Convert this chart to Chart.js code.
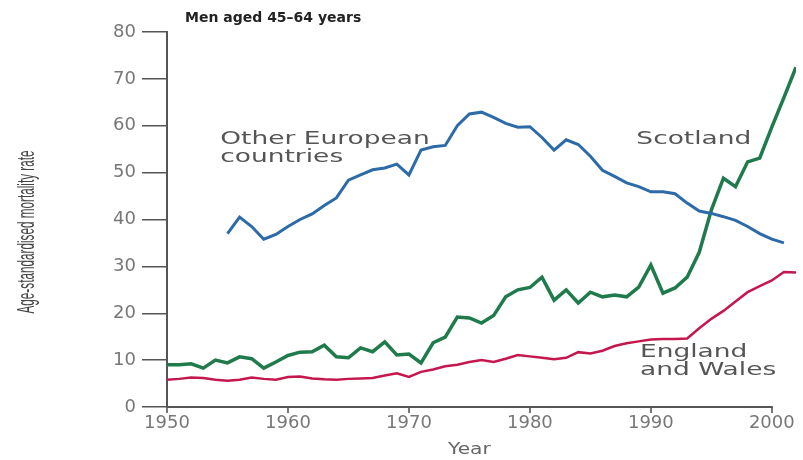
<!DOCTYPE html>
<html>
<head>
<meta charset="utf-8">
<script src="https://cdn.jsdelivr.net/npm/chart.js@4"></script>
<style>
    html, body { margin: 0; padding: 0; background: #fff; }
    #wrap { width: 803px; height: 460px; }
</style>
</head>
<body>
<div id="wrap"><canvas id="mortalityChart" width="803" height="460"></canvas></div>
<script>
// Năm
const years = [
    1950, 1951, 1952, 1953, 1954, 1955, 1956, 1957, 1958, 1959,
    1960, 1961, 1962, 1963, 1964, 1965, 1966, 1967, 1968, 1969,
    1970, 1971, 1972, 1973, 1974, 1975, 1976, 1977, 1978, 1979,
    1980, 1981, 1982, 1983, 1984, 1985, 1986, 1987, 1988, 1989,
    1990, 1991, 1992, 1993, 1994, 1995, 1996, 1997, 1998, 1999,
    2000, 2001, 2002
];

const scotland = [
    9.0, 9.0, 9.2, 8.3, 10.0, 9.4, 10.7, 10.3, 8.3, 9.6,
    11.0, 11.7, 11.8, 13.2, 10.7, 10.5, 12.6, 11.8, 13.9, 11.1,
    11.3, 9.4, 13.7, 14.9, 19.2, 19.0, 17.9, 19.5, 23.5, 25.0,
    25.5, 27.7, 22.8, 25.0, 22.2, 24.5, 23.5, 23.9, 23.5, 25.6,
    30.3, 24.3, 25.4, 27.7, 33.0, 42.0, 48.8, 47.0, 52.3, 53.1,
    59.7, 66.0, 72.5
];

const otherEurope = [
    null, null, null, null, null, 37.0, 40.5, 38.5, 35.8, 36.8,
    38.5, 40.0, 41.2, 43.0, 44.6, 48.4, 49.5, 50.6, 51.0, 51.8,
    49.5, 54.8, 55.5, 55.8, 60.0, 62.5, 62.9, 61.8, 60.5, 59.7,
    59.8, 57.5, 54.8, 57.0, 56.0, 53.5, 50.5, 49.2, 47.8, 47.0,
    45.9, 45.9, 45.5, 43.5, 41.8, 41.3, 40.6, 39.8, 38.5, 37.0,
    35.8, 35.0, null
];

const englandWales = [
    5.8, 6.0, 6.3, 6.2, 5.8, 5.6, 5.8, 6.3, 6.0, 5.8,
    6.4, 6.5, 6.1, 5.9, 5.8, 6.0, 6.1, 6.2, 6.7, 7.2,
    6.4, 7.5, 8.0, 8.7, 9.0, 9.6, 10.0, 9.6, 10.3, 11.1,
    10.8, 10.5, 10.2, 10.5, 11.7, 11.4, 12.0, 13.0, 13.6, 14.0,
    14.4, 14.5, 14.5, 14.6, 16.8, 18.8, 20.5, 22.5, 24.5, 25.8,
    27.0, 28.8, 28.7
];

const yTicks = [0, 10, 20, 30, 40, 50, 60, 70, 80];
const xTicks = [1950, 1960, 1970, 1980, 1990, 2000];

// Nhãn trên biểu đồ (toạ độ theo dữ liệu)
const seriesLabels = [
    { lines: ['Other European', 'countries'], year: 1954.4, value: 57 },
    { lines: ['Scotland'], year: 1988.8, value: 57 },
    { lines: ['England', 'and Wales'], year: 1989.1, value: 11.7 }
];

function toPoints(arr) {
    return years.map(function (y, i) {
        return { x: y, y: arr[i] };
    });
}

// Vẽ chữ kéo giãn theo chiều ngang
function stretchText(ctx, text, x, y, sx, sy, angle) {
    ctx.save();
    ctx.translate(x, y);
    if (angle) ctx.rotate(angle);
    ctx.scale(sx, sy);
    ctx.fillText(text, 0, 0);
    ctx.restore();
}

const labelPlugin = {
    id: 'labelPlugin',
    afterDraw: function (chart) {
        const ctx = chart.ctx;
        const xs = chart.scales.x;
        const ys = chart.scales.y;
        const area = chart.chartArea;
        ctx.save();

        // Trục x chỉ tới năm 2000
        ctx.strokeStyle = '#555';
        ctx.lineWidth = 2;
        ctx.beginPath();
        ctx.moveTo(area.left - 1, ys.getPixelForValue(0));
        ctx.lineTo(xs.getPixelForValue(2000) + 1, ys.getPixelForValue(0));
        ctx.stroke();

        // Tiêu đề
        ctx.fillStyle = '#222';
        ctx.font = 'bold 14px "DejaVu Sans"';
        ctx.textBaseline = 'middle';
        ctx.textAlign = 'left';
        ctx.fillText('Men aged 45\u201364 years', area.left + 18, area.top - 14);

        // Nhãn các đường
        ctx.fillStyle = '#555';
        ctx.font = '18px "DejaVu Sans"';
        seriesLabels.forEach(function (lbl) {
            const px = xs.getPixelForValue(lbl.year);
            const py = ys.getPixelForValue(lbl.value);
            lbl.lines.forEach(function (t, k) {
                stretchText(ctx, t, px, py + k * 18, 1.47, 1);
            });
        });

        // Tiêu đề trục
        ctx.fillStyle = '#666';
        ctx.font = '15px "DejaVu Sans"';
        ctx.textAlign = 'center';
        stretchText(ctx, 'Year', (xs.getPixelForValue(1950) + xs.getPixelForValue(2000)) / 2, 450, 1.35, 1);

        ctx.fillStyle = '#444';
        ctx.font = '14px "Liberation Sans"';
        const w = ctx.measureText('Age-standardised mortality rate').width;
        stretchText(ctx, 'Age-standardised mortality rate', 27, 232, 163 / w, 1.7, -Math.PI / 2);

        ctx.restore();
    }
};

const bgPlugin = {
    id: 'bgPlugin',
    beforeDraw: function (chart) {
        const ctx = chart.ctx;
        ctx.save();
        ctx.fillStyle = '#fff';
        ctx.fillRect(0, 0, chart.width, chart.height);
        ctx.restore();
    }
};

new Chart(document.getElementById('mortalityChart').getContext('2d'), {
    type: 'line',
    data: {
        datasets: [
            {
                label: 'Other European countries',
                data: toPoints(otherEurope),
                borderColor: '#2c6aa8',
                borderWidth: 3,
                pointRadius: 0,
                tension: 0
            },
            {
                label: 'Scotland',
                data: toPoints(scotland),
                borderColor: '#1f7a4c',
                borderWidth: 3.5,
                pointRadius: 0,
                tension: 0
            },
            {
                label: 'England and Wales',
                data: toPoints(englandWales),
                borderColor: '#c4174e',
                borderWidth: 2.5,
                pointRadius: 0,
                tension: 0
            }
        ]
    },
    options: {
        responsive: false,
        animation: false,
        layout: { padding: { top: 32, right: 7, left: 0, bottom: 0 } },
        plugins: {
            legend: { display: false },
            tooltip: { enabled: false }
        },
        scales: {
            x: {
                type: 'linear',
                min: 1950,
                max: 2002,
                afterFit: function (scale) { scale.height = 53; },
                afterBuildTicks: function (scale) {
                    scale.ticks = xTicks.map(function (v) { return { value: v }; });
                },
                border: { display: false },
                grid: { drawOnChartArea: false, drawTicks: true, tickLength: 6, color: '#777', lineWidth: 2 },
                ticks: {
                    color: '#777',
                    font: { family: 'DejaVu Sans', size: 18 },
                    padding: 0,
                    maxRotation: 0,
                    callback: function (v) { return String(v); }
                }
            },
            y: {
                min: 0,
                max: 80,
                afterFit: function (scale) { scale.width = 167; },
                afterBuildTicks: function (scale) {
                    scale.ticks = yTicks.map(function (v) { return { value: v }; });
                },
                border: { color: '#555', width: 2 },
                grid: { drawOnChartArea: false, drawTicks: true, tickLength: 25, color: '#555', lineWidth: 1.5 },
                ticks: {
                    color: '#777',
                    font: { family: 'DejaVu Sans', size: 18 },
                    padding: 6
                }
            }
        }
    },
    plugins: [bgPlugin, labelPlugin]
});
</script>
</body>
</html>
